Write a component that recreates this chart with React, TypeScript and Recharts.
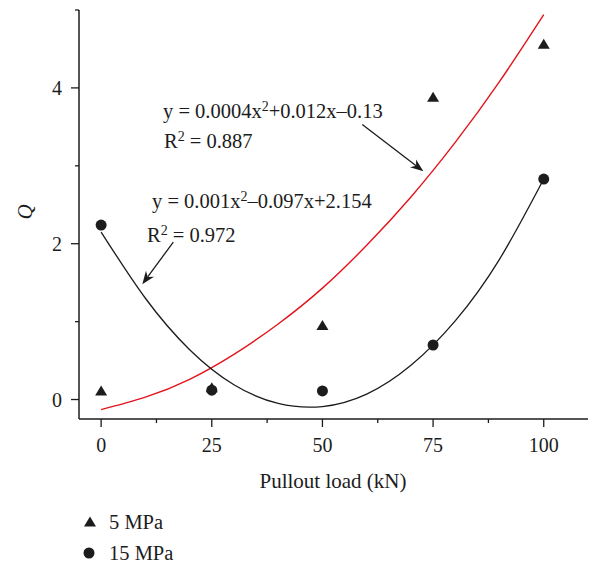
import React from 'react';
import { ComposedChart, XAxis, YAxis, Line, Scatter, ReferenceLine } from 'recharts';

// Measured points (pullout load in kN vs Q)
const loads = [0, 25, 50, 75, 100];
const q5MPa = [0.11, 0.15, 0.95, 3.88, 4.56];
const q15MPa = [2.24, 0.12, 0.11, 0.7, 2.83];

// Fitted curves, sampled every 10 kN
const fitLoads = [0, 10, 20, 30, 40, 50, 60, 70, 80, 90, 100];
const fit5MPa = [-0.13, 0.03, 0.26, 0.58, 0.97, 1.43, 1.98, 2.6, 3.3, 4.08, 4.94];
const fit15MPa = [2.15, 1.3, 0.64, 0.19, -0.05, -0.09, 0.07, 0.44, 1.01, 1.8, 2.83];

const xTicks = [0, 12.5, 25, 37.5, 50, 62.5, 75, 87.5, 100];
const yTicks = [0, 1, 2, 3, 4, 5];
const xMajor = [0, 25, 50, 75, 100];
const yMajor = [0, 2, 4];

const FONT = '"Liberation Serif", "DejaVu Serif", serif';
const INK = '#1c1c1c';
const RED = '#e3141b';

const pts5 = loads.map((x, i) => ({ x, y: q5MPa[i] }));
const pts15 = loads.map((x, i) => ({ x, y: q15MPa[i] }));
const curve5 = fitLoads.map((x, i) => ({ x, y: fit5MPa[i] }));
const curve15 = fitLoads.map((x, i) => ({ x, y: fit15MPa[i] }));

const Triangle = ({ cx, cy }: any) => (
  <polygon points={`${cx},${cy - 5.5} ${cx + 6},${cy + 4.5} ${cx - 6},${cy + 4.5}`} fill={INK} />
);
const Dot = ({ cx, cy }: any) => <circle cx={cx} cy={cy} r={5.5} fill={INK} />;

const XTick = ({ x, y, payload }: any) => {
  const major = xMajor.includes(payload.value);
  return (
    <g>
      <line x1={x} y1={y} x2={x} y2={y + (major ? 8 : 4)} stroke={INK} strokeWidth={1.3} />
      {major && (
        <text x={x} y={y + 33} textAnchor="middle" fontSize={20} fontFamily={FONT} fill={INK}>
          {payload.value}
        </text>
      )}
    </g>
  );
};

const YTick = ({ x, y, payload }: any) => {
  const major = yMajor.includes(payload.value);
  return (
    <g>
      <line x1={x - (major ? 8 : 4)} y1={y} x2={x} y2={y} stroke={INK} strokeWidth={1.3} />
      {major && (
        <text x={x - 17} y={y + 7} textAnchor="end" fontSize={20} fontFamily={FONT} fill={INK}>
          {payload.value}
        </text>
      )}
    </g>
  );
};

// Leader line with a notched arrowhead at the second point
const Arrow = ({ x1, y1, x2, y2 }: any) => {
  const a = Math.atan2(y2 - y1, x2 - x1);
  const L = 13;
  const W = 5;
  const bx = x2 - L * Math.cos(a);
  const by = y2 - L * Math.sin(a);
  const nx = x2 - L * 0.7 * Math.cos(a);
  const ny = y2 - L * 0.7 * Math.sin(a);
  const px = -Math.sin(a) * W;
  const py = Math.cos(a) * W;
  return (
    <g>
      <line x1={x1} y1={y1} x2={nx} y2={ny} stroke={INK} strokeWidth={1.3} />
      <polygon points={`${x2},${y2} ${bx + px},${by + py} ${nx},${ny} ${bx - px},${by - py}`} fill={INK} />
    </g>
  );
};

const Sup = ({ children }: any) => (
  <tspan dy={-7} fontSize={14}>{children}</tspan>
);

export default function App() {
  return (
    <div style={{ position: 'absolute', left: 0, top: 0 }}>
      <ComposedChart width={589} height={565} margin={{ top: 10, right: 1, bottom: 0, left: 0 }}>
        <XAxis
          type="number"
          dataKey="x"
          domain={[-5, 110]}
          ticks={xTicks}
          tick={<XTick />}
          tickLine={false}
          tickSize={0}
          tickMargin={0}
          height={146}
          axisLine={{ stroke: INK, strokeWidth: 1.5 }}
          allowDataOverflow
          interval={0}
        />
        <YAxis
          type="number"
          dataKey="y"
          domain={[-0.25, 5]}
          ticks={yTicks}
          tick={<YTick />}
          tickLine={false}
          tickSize={0}
          tickMargin={0}
          width={79}
          axisLine={{ stroke: INK, strokeWidth: 1.5 }}
          allowDataOverflow
          interval={0}
        />
        <Line data={curve5} dataKey="y" type="natural" stroke={RED} strokeWidth={1.4} dot={false} isAnimationActive={false} />
        <Line data={curve15} dataKey="y" type="natural" stroke={INK} strokeWidth={1.3} dot={false} isAnimationActive={false} />
        <Scatter data={pts5} dataKey="y" shape={<Triangle />} isAnimationActive={false} />
        <Scatter data={pts15} dataKey="y" shape={<Dot />} isAnimationActive={false} />
        <ReferenceLine segment={[{ x: 59, y: 3.53 }, { x: 72.8, y: 2.93 }]} shape={<Arrow />} ifOverflow="visible" />
        <ReferenceLine segment={[{ x: 16.3, y: 2.02 }, { x: 9.3, y: 1.48 }]} shape={<Arrow />} ifOverflow="visible" />

        <g fontFamily={FONT} fill={INK} fontSize={20.5}>
          <text x={163} y={118}>
            y = 0.0004x<Sup>2</Sup>
            <tspan dy={7}>+0.012x–0.13</tspan>
          </text>
          <text x={164} y={148}>
            R<Sup>2</Sup>
            <tspan dy={7}> = 0.887</tspan>
          </text>
          <text x={152} y={208}>
            y = 0.001x<Sup>2</Sup>
            <tspan dy={7}>–0.097x+2.154</tspan>
          </text>
          <text x={147} y={242}>
            R<Sup>2</Sup>
            <tspan dy={7}> = 0.972</tspan>
          </text>
        </g>

        <text x={333} y={488} textAnchor="middle" fontFamily={FONT} fontSize={21} fill={INK}>
          Pullout load (kN)
        </text>
        <text
          x={0}
          y={0}
          transform="translate(32 212) rotate(-90)"
          textAnchor="middle"
          fontFamily={FONT}
          fontStyle="italic"
          fontSize={21}
          fill={INK}
        >
          Q
        </text>

        {/* legend */}
        <Triangle cx={90} cy={522} />
        <text x={109} y={529} fontFamily={FONT} fontSize={20.5} fill={INK}>5 MPa</text>
        <Dot cx={89} cy={553} />
        <text x={109} y={560} fontFamily={FONT} fontSize={20.5} fill={INK}>15 MPa</text>
      </ComposedChart>
    </div>
  );
}
